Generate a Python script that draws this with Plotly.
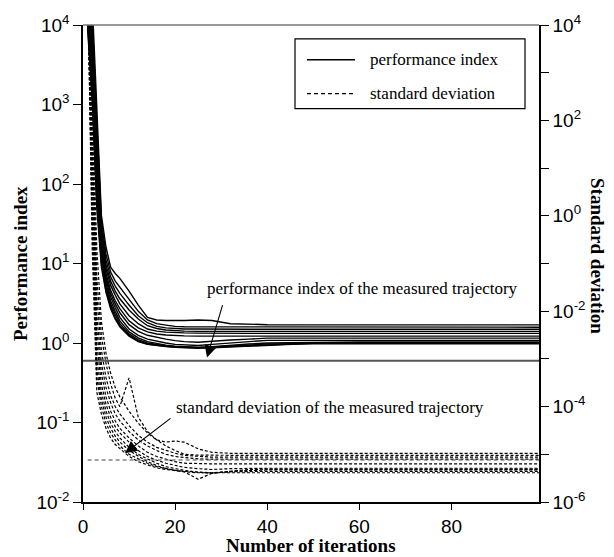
import plotly.graph_objects as go

# ---------------- data ----------------
iters = [1, 2, 3, 4, 5, 6, 7, 8, 10, 12, 14, 16, 18, 20, 22, 25, 28, 32, 36, 40, 50, 60, 70, 80, 90, 99]

perf_series = [
    [9e4, 2e4, 900, 40, 16, 9.0, 7.5, 6.5, 4.5, 3.0, 2.1, 1.95, 1.92, 1.9, 1.92, 1.95, 1.92, 1.75, 1.72, 1.70, 1.69, 1.69, 1.69, 1.69, 1.69, 1.69],
    [6e4, 1.2e4, 600, 34, 13, 7.8, 6.0, 5.0, 3.5, 2.5, 1.95, 1.75, 1.68, 1.62, 1.60, 1.60, 1.59, 1.58, 1.58, 1.58, 1.58, 1.58, 1.58, 1.58, 1.58, 1.58],
    [5e4, 9e3, 450, 28, 11, 6.8, 5.2, 4.2, 3.0, 2.2, 1.8, 1.62, 1.55, 1.52, 1.50, 1.50, 1.49, 1.49, 1.49, 1.49, 1.49, 1.49, 1.49, 1.49, 1.49, 1.49],
    [4e4, 7e3, 300, 24, 9.5, 6.0, 4.5, 3.6, 2.6, 2.0, 1.65, 1.52, 1.46, 1.43, 1.41, 1.40, 1.40, 1.40, 1.40, 1.40, 1.40, 1.40, 1.40, 1.40, 1.40, 1.40],
    [3e4, 5e3, 220, 20, 8.5, 5.3, 4.0, 3.1, 2.2, 1.75, 1.50, 1.41, 1.37, 1.35, 1.34, 1.33, 1.32, 1.32, 1.32, 1.32, 1.32, 1.32, 1.32, 1.32, 1.32, 1.32],
    [2.5e4, 4e3, 170, 17, 7.5, 4.6, 3.4, 2.7, 1.9, 1.55, 1.38, 1.30, 1.26, 1.24, 1.23, 1.22, 1.22, 1.22, 1.22, 1.22, 1.22, 1.22, 1.22, 1.22, 1.22, 1.22],
    [2e4, 3e3, 130, 15, 6.8, 4.2, 3.1, 2.4, 1.7, 1.40, 1.25, 1.17, 1.12, 1.07, 1.04, 1.02, 1.04, 1.09, 1.12, 1.15, 1.15, 1.15, 1.15, 1.15, 1.15, 1.15],
    [1.8e4, 2.5e3, 110, 13, 6.2, 3.8, 2.8, 2.1, 1.5, 1.25, 1.12, 1.05, 1.00, 0.96, 0.94, 0.93, 0.96, 1.00, 1.05, 1.08, 1.08, 1.08, 1.08, 1.08, 1.08, 1.08],
    [1.5e4, 2e3, 90, 12, 5.6, 3.4, 2.5, 1.9, 1.38, 1.16, 1.04, 0.98, 0.94, 0.91, 0.90, 0.88, 0.90, 0.94, 0.97, 1.00, 1.02, 1.03, 1.03, 1.03, 1.03, 1.03],
    [1.2e4, 1.6e3, 70, 11, 5.0, 3.1, 2.3, 1.75, 1.30, 1.10, 1.00, 0.95, 0.92, 0.90, 0.89, 0.88, 0.89, 0.92, 0.95, 0.97, 0.98, 0.98, 0.98, 0.98, 0.98, 0.98],
    [1.0e4, 1.3e3, 60, 10, 4.6, 2.9, 2.1, 1.65, 1.25, 1.06, 0.97, 0.93, 0.91, 0.89, 0.88, 0.87, 0.88, 0.90, 0.93, 0.96, 1.00, 1.00, 1.00, 1.00, 1.00, 1.00],
    [9e3, 1.1e3, 50, 9, 4.3, 2.7, 2.0, 1.6, 1.22, 1.04, 0.96, 0.92, 0.90, 0.88, 0.87, 0.86, 0.87, 0.89, 0.92, 0.95, 0.99, 1.01, 1.01, 1.01, 1.01, 1.01],
]

std_series = [
    [1e5, 3e2, 0.2, 6e-3, 1.3e-3, 5e-4, 2.5e-4, 1.6e-4, 8e-5, 4.5e-5, 2.8e-5, 2.0e-5, 1.8e-5, 1.9e-5, 1.8e-5, 1.3e-5, 1.1e-5, 1.05e-5, 1.05e-5, 1.05e-5, 1.05e-5, 1.05e-5, 1.05e-5, 1.05e-5, 1.05e-5, 1.05e-5],
    [1e5, 1e2, 0.05, 3e-3, 8e-4, 3e-4, 1.5e-4, 1.0e-4, 4e-4, 6e-5, 3e-5, 2e-5, 1.5e-5, 1.2e-5, 1.0e-5, 9.6e-6, 9.5e-6, 9.5e-6, 9.5e-6, 9.5e-6, 9.5e-6, 9.5e-6, 9.5e-6, 9.5e-6, 9.5e-6, 9.5e-6],
    [1e5, 50, 0.02, 1.5e-3, 4e-4, 1.7e-4, 1.0e-4, 7e-5, 4e-5, 2.5e-5, 1.8e-5, 1.4e-5, 1.2e-5, 1.05e-5, 9.5e-6, 9.0e-6, 8.7e-6, 8.7e-6, 8.7e-6, 8.7e-6, 8.7e-6, 8.7e-6, 8.7e-6, 8.7e-6, 8.7e-6, 8.7e-6],
    [1e5, 20, 8e-3, 8e-4, 2.5e-4, 1.2e-4, 7e-5, 5e-5, 3e-5, 2e-5, 1.5e-5, 1.2e-5, 1.0e-5, 9e-6, 8.5e-6, 8.0e-6, 7.9e-6, 7.9e-6, 7.9e-6, 7.9e-6, 7.9e-6, 7.9e-6, 7.9e-6, 7.9e-6, 7.9e-6, 7.9e-6],
    [1e5, 10, 4e-3, 5e-4, 1.6e-4, 8e-5, 5e-5, 3.5e-5, 2.2e-5, 1.5e-5, 1.1e-5, 9e-6, 8e-6, 7e-6, 6.5e-6, 6.3e-6, 6.3e-6, 6.3e-6, 6.3e-6, 6.3e-6, 6.3e-6, 6.3e-6, 6.3e-6, 6.3e-6, 6.3e-6, 6.3e-6],
    [1e5, 5, 2e-3, 3e-4, 1.1e-4, 6e-5, 3.8e-5, 2.8e-5, 1.8e-5, 1.2e-5, 9e-6, 7.5e-6, 6.5e-6, 5.8e-6, 5.3e-6, 5.0e-6, 4.8e-6, 5.0e-6, 5.1e-6, 5.1e-6, 5.1e-6, 5.1e-6, 5.1e-6, 5.1e-6, 5.1e-6, 5.1e-6],
    [1e5, 2, 1e-3, 2e-4, 8e-5, 4.5e-5, 3e-5, 2.2e-5, 1.4e-5, 1e-5, 8e-6, 6.5e-6, 5.5e-6, 5.0e-6, 4.6e-6, 4.2e-6, 4.0e-6, 4.4e-6, 4.8e-6, 4.9e-6, 4.9e-6, 4.9e-6, 4.9e-6, 4.9e-6, 4.9e-6, 4.9e-6],
    [1e5, 1, 6e-4, 1.4e-4, 6e-5, 3.5e-5, 2.4e-5, 1.8e-5, 1.2e-5, 9e-6, 7e-6, 5.8e-6, 5.0e-6, 4.6e-6, 4.3e-6, 3.0e-6, 4.0e-6, 4.4e-6, 4.6e-6, 4.7e-6, 4.7e-6, 4.7e-6, 4.7e-6, 4.7e-6, 4.7e-6, 4.7e-6],
    [1e5, 0.5, 4e-4, 1e-4, 4.5e-5, 2.8e-5, 2e-5, 1.5e-5, 1e-5, 8e-6, 6.5e-6, 5.5e-6, 5.0e-6, 4.6e-6, 4.4e-6, 4.2e-6, 4.1e-6, 4.3e-6, 4.4e-6, 4.4e-6, 4.4e-6, 4.4e-6, 4.4e-6, 4.4e-6, 4.4e-6, 4.4e-6],
    [1e5, 0.2, 2e-4, 7e-5, 3.5e-5, 2.2e-5, 1.6e-5, 1.3e-5, 9e-6, 7e-6, 6e-6, 5.2e-6, 4.8e-6, 4.5e-6, 4.3e-6, 4.1e-6, 4.1e-6, 4.1e-6, 4.1e-6, 4.1e-6, 4.1e-6, 4.1e-6, 4.1e-6, 4.1e-6, 4.1e-6, 4.1e-6],
]

measured_perf = 0.60        # performance index of the measured trajectory (left axis)
measured_std = 7.6e-6       # standard deviation of the measured trajectory (right axis)
ref_x = [0, 99]
ref_std_x = [1, 99]

left_tickvals = [1e-2, 1e-1, 1e0, 1e1, 1e2, 1e3, 1e4]
left_ticktext = ["10<sup>-2</sup>", "10<sup>-1</sup>", "10<sup>0</sup>", "10<sup>1</sup>",
                 "10<sup>2</sup>", "10<sup>3</sup>", "10<sup>4</sup>"]
right_tickvals = [1e-6, 1e-5, 1e-4, 1e-3, 1e-2, 1e-1, 1e0, 1e1, 1e2, 1e3, 1e4]
right_ticktext = ["10<sup>-6</sup>", "", "10<sup>-4</sup>", "", "10<sup>-2</sup>", "",
                  "10<sup>0</sup>", "", "10<sup>2</sup>", "", "10<sup>4</sup>"]
x_tickvals = [0, 20, 40, 60, 80]

# ---------------- figure ----------------
W, H = 614, 557
ML, MR, MT, MB = 83, 75, 23, 55
PW, PH = W - ML - MR, H - MT - MB


def px(x):
    return (x - ML) / PW


def py(y):
    return (H - MB - y) / PH


SANS = "Liberation Sans, Arial, sans-serif"
SERIF = "Liberation Serif, Times New Roman, serif"

fig = go.Figure()

for s in std_series:
    fig.add_trace(go.Scatter(x=iters, y=s, mode="lines", yaxis="y2", showlegend=False,
                             line=dict(color="black", width=1.2, dash="3px,2px")))

fig.add_trace(go.Scatter(x=ref_std_x, y=[measured_std] * 2, mode="lines", yaxis="y2", showlegend=False,
                         line=dict(color="#444", width=1, dash="4px,3px")))

for s in perf_series:
    fig.add_trace(go.Scatter(x=iters, y=s, mode="lines", yaxis="y", showlegend=False,
                             line=dict(color="black", width=1.4)))

fig.add_trace(go.Scatter(x=ref_x, y=[measured_perf] * 2, mode="lines", yaxis="y", showlegend=False,
                         line=dict(color="#555", width=2)))

fig.update_layout(
    width=W, height=H,
    margin=dict(l=ML, r=MR, t=MT, b=MB, pad=0),
    paper_bgcolor="white", plot_bgcolor="white",
    xaxis=dict(range=[0, 99], tickvals=x_tickvals, ticks="outside", ticklen=6, tickwidth=1.2,
               tickcolor="black", showline=True, linecolor="black", linewidth=1.5,
               showgrid=False, zeroline=False, tickfont=dict(family=SANS, size=19, color="black")),
    yaxis=dict(type="log", range=[-2, 4], tickvals=left_tickvals, ticktext=left_ticktext,
               ticks="outside", ticklen=8, tickwidth=1.2, tickcolor="black",
               showline=True, linecolor="black", linewidth=1.5, showgrid=False, zeroline=False,
               tickfont=dict(family=SANS, size=19, color="black")),
    yaxis2=dict(type="log", range=[-6, 4], overlaying="y", side="right",
                tickvals=right_tickvals, ticktext=right_ticktext,
                ticks="outside", ticklen=8, tickwidth=1.2, tickcolor="black",
                showline=True, linecolor="black", linewidth=1.5, showgrid=False, zeroline=False,
                tickfont=dict(family=SANS, size=19, color="black")),
)

shapes = []
# top border (gray)
shapes.append(dict(type="line", xref="paper", yref="paper", x0=0, x1=1, y0=1, y1=1,
                   line=dict(color="#777", width=1.5)))
# legend box
shapes.append(dict(type="rect", xref="paper", yref="paper", x0=px(295), x1=px(525), y0=py(107), y1=py(37),
                   line=dict(color="black", width=1.2), fillcolor="white"))
shapes.append(dict(type="line", xref="paper", yref="paper", x0=px(307), x1=px(355), y0=py(58), y1=py(58),
                   line=dict(color="black", width=1.5)))
shapes.append(dict(type="line", xref="paper", yref="paper", x0=px(307), x1=px(355), y0=py(92), y1=py(92),
                   line=dict(color="black", width=1.2, dash="4px,3px")))
fig.update_layout(shapes=shapes)

anns = []
anns.append(dict(xref="paper", yref="paper", x=px(368), y=py(58), xanchor="left", yanchor="middle",
                 text="performance index", showarrow=False, font=dict(family=SERIF, size=17, color="black")))
anns.append(dict(xref="paper", yref="paper", x=px(368), y=py(92), xanchor="left", yanchor="middle",
                 text="standard deviation", showarrow=False, font=dict(family=SERIF, size=17, color="black")))
# curve annotations
anns.append(dict(xref="paper", yref="paper", x=px(362), y=py(288), xanchor="center", yanchor="middle",
                 text="performance index of the measured trajectory", showarrow=False,
                 font=dict(family=SERIF, size=17, color="black")))
anns.append(dict(xref="paper", yref="paper", x=px(330), y=py(407), xanchor="center", yanchor="middle",
                 text="standard deviation of the measured trajectory", showarrow=False,
                 font=dict(family=SERIF, size=17, color="black")))
# arrows
anns.append(dict(xref="paper", yref="paper", x=px(207), y=py(357), ax=16, ay=-54, text="",
                 showarrow=True, arrowhead=2, arrowsize=2.2, arrowwidth=1.1, arrowcolor="black"))
anns.append(dict(xref="paper", yref="paper", x=px(125), y=py(453), ax=47, ay=-36, text="",
                 showarrow=True, arrowhead=2, arrowsize=2.2, arrowwidth=1.1, arrowcolor="black"))
# axis titles
anns.append(dict(xref="paper", yref="paper", x=px(20), y=py(262), xanchor="center", yanchor="middle",
                 text="<b>Performance index</b>", textangle=-90, showarrow=False,
                 font=dict(family=SERIF, size=19, color="black")))
anns.append(dict(xref="paper", yref="paper", x=px(598), y=py(255), xanchor="center", yanchor="middle",
                 text="<b>Standard deviation</b>", textangle=90, showarrow=False,
                 font=dict(family=SERIF, size=19, color="black")))
anns.append(dict(xref="paper", yref="paper", x=px(311), y=py(546), xanchor="center", yanchor="middle",
                 text="<b>Number of iterations</b>", showarrow=False,
                 font=dict(family=SERIF, size=19, color="black")))
fig.update_layout(annotations=anns)

fig.write_html("out.html")
